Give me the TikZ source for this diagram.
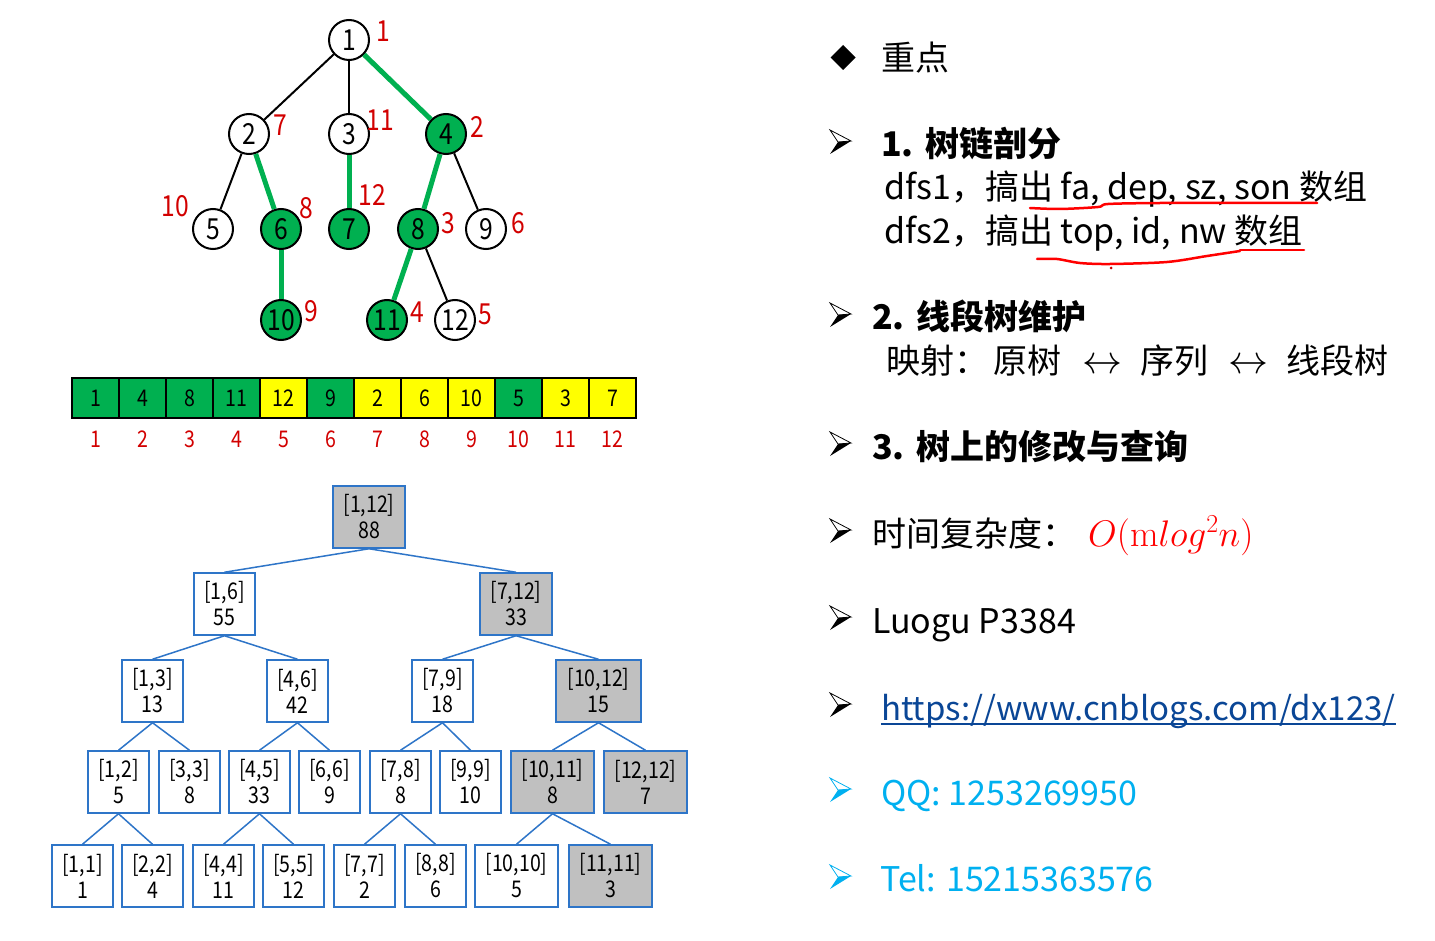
\RequirePackage{fix-cm}
\documentclass[tikz,border=0pt]{standalone}
\usepackage[no-math]{fontspec}
\setmainfont{Noto Sans CJK SC}
\newfontfamily\narrowfont{Noto Sans CJK SC}[FakeStretch=0.85]
\definecolor{tgreen}{RGB}{0,176,80}
\definecolor{tyellow}{RGB}{255,255,0}
\definecolor{labred}{RGB}{210,0,0}
\definecolor{segblue}{RGB}{46,117,200}
\definecolor{seggray}{RGB}{192,192,192}
\definecolor{urlblue}{RGB}{10,70,150}
\definecolor{qqblue}{RGB}{0,176,240}
\newcommand{\bularrow}[3]{%
  \begin{scope}[shift={(#1,#2)}]
    \fill[#3] (-2,0) -- (11,-1) -- (-10,12) -- cycle;
    \draw[#3, line width=0.8pt, line join=miter] (-10,-12) -- (11,-1) -- (-2,0) -- cycle;
  \end{scope}}
\tikzset{
  tnode/.style={circle, draw, line width=2pt, minimum size=40pt, inner sep=0pt, fill=white,
    font=\narrowfont\fontsize{29}{29}\selectfont},
  gnode/.style={tnode, fill=tgreen},
  redlab/.style={text=labred, inner sep=0pt, font=\narrowfont\fontsize{29}{29}\selectfont},
  tedge/.style={line width=2pt},
  hedge/.style={line width=5pt, draw=tgreen},
  cell/.style={draw, line width=1.5pt, minimum width=47pt, minimum height=40pt, inner sep=0pt,
    font=\narrowfont\fontsize{23}{23}\selectfont},
  idx/.style={text=labred, inner sep=0pt, font=\narrowfont\fontsize{23}{23}\selectfont},
  seg/.style={draw=segblue, line width=1.5pt, minimum width=61pt, minimum height=62pt, inner sep=0pt,
    fill=white, align=center, font=\narrowfont\fontsize{23}{26}\selectfont},
  segg/.style={seg, fill=seggray},
  segline/.style={draw=segblue, line width=1.5pt},
  txt/.style={anchor=west, inner sep=0pt, text height=30pt, text depth=4pt,
    font=\fontsize{34}{40}\selectfont},
  btxt/.style={txt, font=\fontsize{34}{40}\selectfont\bfseries},
  scrib/.style={draw=red, line width=2.5pt, line cap=round, line join=round}
}
\begin{document}
\begin{tikzpicture}[x=1pt,y=-1pt]
\useasboundingbox (0,0) rectangle (1435,941);
\fill[white] (0,0) rectangle (1435,941);

% ---------------- original tree ----------------
\node[tnode] (t1) at (349,40) {1};
\node[tnode] (t2) at (249,134) {2};
\node[tnode] (t3) at (349,134) {3};
\node[gnode] (t4) at (446,134) {4};
\node[tnode] (t5) at (213,229) {5};
\node[gnode] (t6) at (281,229) {6};
\node[gnode] (t7) at (349,229) {7};
\node[gnode] (t8) at (418,229) {8};
\node[tnode] (t9) at (486,229) {9};
\node[gnode] (t10) at (281,320) {10};
\node[gnode] (t11) at (387,320) {11};
\node[tnode] (t12) at (455,320) {12};

\draw[tedge] (t1) -- (t2);
\draw[tedge] (t1) -- (t3);
\draw[hedge] (t1) -- (t4);
\draw[tedge] (t2) -- (t5);
\draw[hedge] (t2) -- (t6);
\draw[hedge] (t3) -- (t7);
\draw[hedge] (t4) -- (t8);
\draw[tedge] (t4) -- (t9);
\draw[hedge] (t6) -- (t10);
\draw[hedge] (t8) -- (t11);
\draw[tedge] (t8) -- (t12);

\node[redlab] (l1) at (383,31) {1};
\node[redlab] (l2) at (280,125) {7};
\node[redlab] (l3) at (380,120) {11};
\node[redlab] (l4) at (477,127) {2};
\node[redlab] (l5) at (175,206) {10};
\node[redlab] (l6) at (306,208) {8};
\node[redlab] (l7) at (372,195) {12};
\node[redlab] (l8) at (448,223) {3};
\node[redlab] (l9) at (518,223) {6};
\node[redlab] (l10) at (311,311) {9};
\node[redlab] (l11) at (417,312) {4};
\node[redlab] (l12) at (485,314) {5};

% ---------------- array ----------------
\foreach \v/\c [count=\k] in {1/tgreen,4/tgreen,8/tgreen,11/tgreen,12/tyellow,9/tgreen,2/tyellow,6/tyellow,10/tyellow,5/tgreen,3/tyellow,7/tyellow}{
  \node[cell, fill=\c] (a\k) at ({72+47*(\k-0.5)},398) {\v};
  \node[idx] (i\k) at ({72+47*(\k-0.5)},439) {\k};
}

% ---------------- segment tree ----------------
\node[segg, minimum width=72pt] (s1) at (369,517) {[1,12]\\88};
\node[seg] (s2) at (224.5,604) {[1,6]\\55};
\node[segg, minimum width=72pt] (s3) at (516,604) {[7,12]\\33};
\node[seg] (s4) at (152.5,691) {[1,3]\\13};
\node[seg] (s5) at (297.5,691) {[4,6]\\42};
\node[seg] (s6) at (442.5,691) {[7,9]\\18};
\node[segg, minimum width=85pt] (s7) at (598.5,691) {[10,12]\\15};
\node[seg] (s8) at (118.5,782) {[1,2]\\5};
\node[seg] (s9) at (189.5,782) {[3,3]\\8};
\node[seg] (s10) at (259.5,782) {[4,5]\\33};
\node[seg] (s11) at (329.5,782) {[6,6]\\9};
\node[seg] (s12) at (400.5,782) {[7,8]\\8};
\node[seg] (s13) at (470.5,782) {[9,9]\\10};
\node[segg, minimum width=83pt] (s14) at (552.5,782) {[10,11]\\8};
\node[segg, minimum width=83pt] (s15) at (645.5,782) {[12,12]\\7};
\node[seg] (s16) at (82.5,876) {[1,1]\\1};
\node[seg] (s17) at (152.5,876) {[2,2]\\4};
\node[seg] (s18) at (223.5,876) {[4,4]\\11};
\node[seg] (s19) at (293.5,876) {[5,5]\\12};
\node[seg] (s20) at (364.5,876) {[7,7]\\2};
\node[seg] (s21) at (435.5,876) {[8,8]\\6};
\node[seg, minimum width=83pt] (s22) at (516.5,876) {[10,10]\\5};
\node[segg, minimum width=83pt] (s23) at (610.5,876) {[11,11]\\3};

\foreach \p/\c in {s1/s2,s1/s3,s2/s4,s2/s5,s3/s6,s3/s7,s4/s8,s4/s9,s5/s10,s5/s11,s6/s12,s6/s13,s7/s14,s7/s15,s8/s16,s8/s17,s10/s18,s10/s19,s12/s20,s12/s21,s14/s22,s14/s23}{
  \draw[segline] (\p.south) -- (\c.north);
}

% ---------------- right side text ----------------
\fill (843,45) -- (855.5,57.5) -- (843,70) -- (830.5,57.5) -- cycle;
\node[txt] (h0) at (881,58) {重点};

\bularrow{840}{142}{black}
\node[btxt] (h1n) at (881,144) {1.};
\node[btxt] (h1) at (925,144) {树链剖分};
\node[txt] (d1a) at (884,187) {dfs1，};
\node[txt] (d1b) at (985,187) {搞出 fa, dep, sz, son 数组};
\node[txt] (d2a) at (884,231) {dfs2，};
\node[txt] (d2b) at (985,231) {搞出 top, id, nw 数组};

\draw[scrib] plot[smooth, tension=0.5] coordinates {(1030,208) (1060,209) (1098,207) (1108,204) (1160,203) (1250,203) (1317,203)};
\draw[scrib] plot[smooth, tension=0.5] coordinates {(1037,259) (1057,259) (1080,263) (1110,264) (1167,262) (1207,256) (1240,251)};
\draw[scrib] (1240,250) -- (1304,250);
\fill[red!80!black] (1111,268) circle (1.5);

\bularrow{840}{315}{black}
\node[btxt] (h2n) at (872,317) {2.};
\node[btxt] (h2) at (916,317) {线段树维护};
\node[txt] (m1) at (886,360) {映射：};
\node[txt] (m2) at (993,360) {原树};
\node[txt, font=\fontsize{40}{40}\selectfont] (m3) at (1082,360) {$\leftrightarrow$};
\node[txt] (m4) at (1140,360) {序列};
\node[txt, font=\fontsize{40}{40}\selectfont] (m5) at (1228,360) {$\leftrightarrow$};
\node[txt] (m6) at (1286,360) {线段树};

\bularrow{840}{444}{black}
\node[btxt] (h3n) at (872,446) {3.};
\node[btxt] (h3) at (916,446) {树上的修改与查询};

\bularrow{840}{531}{black}
\node[txt] (c1) at (872,533) {时间复杂度：};
\node[txt, text=red, font=\fontsize{37}{40}\selectfont] (c2) at (1088,533) {$O(\mathrm{m}log^2n)$};

\bularrow{840}{618}{black}
\node[txt] (lg) at (872,620) {Luogu P3384};

\bularrow{840}{705}{black}
\node[txt, text=urlblue, font=\fontsize{33}{40}\selectfont] (url) at (881,707) {https://www.cnblogs.com/dx123/};
\draw[urlblue, line width=2pt] (url.south west) -- (url.south east);

\bularrow{840}{790}{qqblue}
\node[txt, text=qqblue] (qq) at (881,792) {QQ: 1253269950};

\bularrow{840}{877}{qqblue}
\node[txt, text=qqblue] (tel) at (880,878) {Tel: 15215363576};
\end{tikzpicture}
\end{document}
